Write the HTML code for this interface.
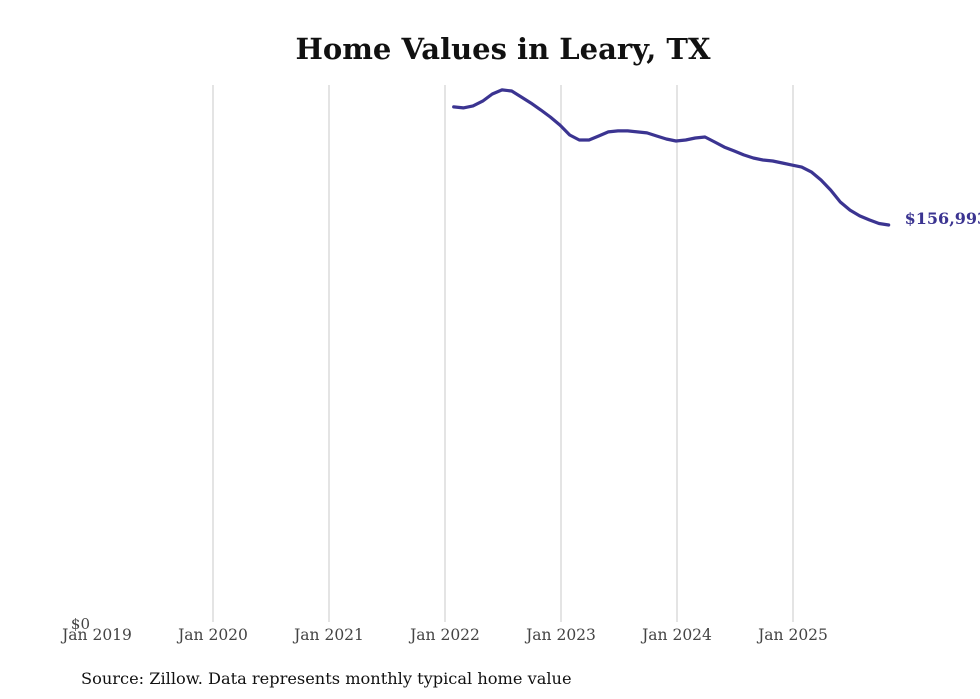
<!DOCTYPE html>
<html><head><meta charset="utf-8"><style>
body{margin:0;background:#fff;}
svg{display:block;font-family:"DejaVu Serif","Liberation Serif",serif;}
</style></head><body>
<svg id="chart" width="980" height="699">
<text x="503" y="59" text-anchor="middle" font-size="29" font-weight="bold" fill="#111">Home Values in Leary, TX</text>
<g id="grid"></g>
<g id="xticks"></g>
<text x="90" y="629" text-anchor="end" font-size="15" fill="#444">$0</text>
<path id="line" fill="none" stroke="#3b3491" stroke-width="3.2" stroke-linejoin="round" stroke-linecap="round"></path>
<text id="endlabel" font-size="16" font-weight="bold" fill="#3b3491"></text>
<text x="81" y="684" font-size="16.2" fill="#111">Source: Zillow. Data represents monthly typical home value</text>
</svg>
<script>
const tickLabels=["Jan 2019","Jan 2020","Jan 2021","Jan 2022","Jan 2023","Jan 2024","Jan 2025"];
const startMonth=37; // Feb 2022, months since Jan 2019
const values=[203700,203300,204100,206000,208800,210400,210000,207600,205200,202500,199700,196500,192600,190600,190600,192200,193800,194200,194200,193800,193400,192200,191000,190200,190600,191400,191800,189800,187800,186300,184700,183500,182700,182300,181500,180700,179900,178000,174800,170800,166100,162900,160600,159000,157600,156993];
const X0=97,PX_PER_MONTH=116/12,Y0=622,YMAX=212357,YTOP=85;
const xs=m=>X0+m*PX_PER_MONTH;
const ys=v=>Y0-(v/YMAX)*(Y0-YTOP);
const ns="http://www.w3.org/2000/svg";
const grid=document.getElementById('grid'),xt=document.getElementById('xticks');
tickLabels.forEach((t,i)=>{
  const x=xs(i*12);
  if(i>0){const l=document.createElementNS(ns,'line');
    l.setAttribute('x1',x);l.setAttribute('x2',x);l.setAttribute('y1',YTOP);l.setAttribute('y2',Y0);
    l.setAttribute('stroke','#c8c8c8');l.setAttribute('stroke-width','1');
    
    
    grid.appendChild(l);}
  const tx=document.createElementNS(ns,'text');
  tx.setAttribute('x',x);tx.setAttribute('y',640);tx.setAttribute('text-anchor','middle');
  tx.setAttribute('font-size','15.5');tx.setAttribute('fill','#444');tx.textContent=t;
  
  
  xt.appendChild(tx);
});
let d='';
values.forEach((v,i)=>{d+=(i?'L':'M')+(xs(startMonth+i)-1).toFixed(1)+','+ys(v).toFixed(1);});
document.getElementById('line').setAttribute('d',d);
const last=values[values.length-1];
const el=document.getElementById('endlabel');
el.setAttribute('x',xs(startMonth+values.length-1)+15);
el.setAttribute('y',ys(last)-1);
el.textContent='$'+last.toLocaleString('en-US');
</script>
</body></html>
